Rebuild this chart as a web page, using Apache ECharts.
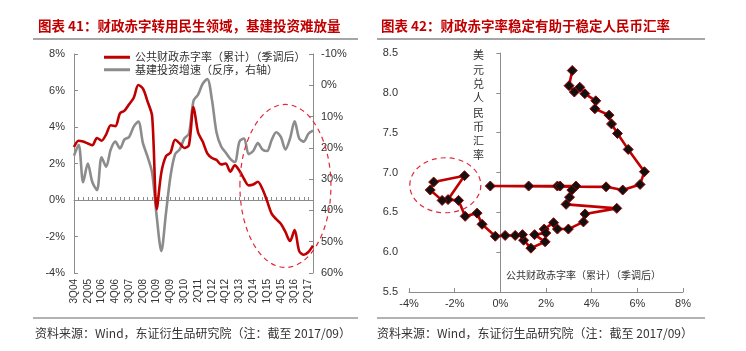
<!DOCTYPE html>
<html>
<head>
<meta charset="utf-8">
<script src="https://cdn.jsdelivr.net/npm/echarts@6/dist/echarts.min.js"></script>
<style>
html, body { margin: 0; padding: 0; background: #fff; }
#main { width: 746px; height: 351px; }
</style>
</head>
<body>
<div id="main"></div>
<script>
// 图表41：季度
var quarterLabels = ['3Q04','4Q04','1Q05','2Q05','3Q05','4Q05','1Q06','2Q06','3Q06','4Q06',
    '1Q07','2Q07','3Q07','4Q07','1Q08','2Q08','3Q08','4Q08','1Q09','2Q09','3Q09','4Q09',
    '1Q10','2Q10','3Q10','4Q10','1Q11','2Q11','3Q11','4Q11','1Q12','2Q12','3Q12','4Q12',
    '1Q13','2Q13','3Q13','4Q13','1Q14','2Q14','3Q14','4Q14','1Q15','2Q15','3Q15','4Q15',
    '1Q16','2Q16','3Q16','4Q16','1Q17','2Q17','3Q17'];
// 公共财政赤字率（累计）（季调后），%
var deficitRate = [2.9, 3.25, 3.2, 3.1, 3.0, 3.4, 3.25, 3.6, 4.1, 4.05, 4.75, 4.9, 5.25, 5.6,
    6.3, 6.1, 5.4, 4.6, -0.5, 1.5, 2.4, 2.6, 3.3, 3.1, 2.85, 3.0, 5.1, 3.7, 3.2, 2.55, 2.3,
    2.2, 1.95, 2.0, 1.55, 1.9, 1.6, 1.15, 0.8, 0.85, 1.0, 0.6, -0.05, -0.75, -1.05, -1.3,
    -1.75, -2.25, -1.65, -2.8, -3.0, -2.85, -2.5];
// 基建投资增速（反序，右轴），%
var infraGrowth = [22.5, 19, 31, 25, 31, 33.5, 23, 26, 20.5, 18, 20.2, 17.3, 16.5, 13.2,
    11.6, 18.5, 22.8, 28, 42, 53, 41, 29, 22, 20.5, 17, 15.5, 5, 3, -0.5, -2, 4.5, 15, 19.5,
    21.5, 23.5, 24.5, 18, 17, 22, 21, 18.5, 20.5, 21, 17.5, 15, 16.5, 20.5, 17, 11.5, 17,
    18, 15.5, 14.5];

// 图表42：赤字率 vs 美元兑人民币汇率
var deficit42 = [3.15, 3.01, 3.24, 3.48, 3.70, 4.18, 4.14, 4.76, 4.87, 5.13, 5.60, 6.31,
    6.12, 5.36, 4.63, -0.44, 1.24, 2.50, 2.62, 3.31, 3.13, 3.03, 2.88, 5.10, 3.71, 3.64,
    2.98, 2.50, 2.33, 1.92, 1.99, 1.50, 1.96, 1.34, 1.02, 0.97, 0.65, 0.21, -0.22, -0.80,
    -1.02, -1.54, -1.83, -2.29, -1.57, -2.92, -3.07, -2.55];
var usdcny42 = [8.28, 8.09, 8.01, 8.07, 7.99, 7.90, 7.80, 7.72, 7.61, 7.49, 7.29, 7.01,
    6.85, 6.78, 6.82, 6.83, 6.83, 6.83, 6.83, 6.83, 6.78, 6.69, 6.60, 6.55, 6.48, 6.38,
    6.29, 6.29, 6.37, 6.29, 6.24, 6.22, 6.13, 6.05, 6.15, 6.22, 6.21, 6.21, 6.20, 6.35,
    6.49, 6.45, 6.65, 6.66, 6.96, 6.88, 6.78, 6.65];

var pairs42 = deficit42.map(function (d, i) { return [d, usdcny42[i]]; });

var FONT = 'Liberation Sans';
var CJK = 'Noto Sans CJK SC';
var axisGray = '#8c8c8c';

var dom = document.getElementById('main');
var myChart = echarts.init(dom);
var option = {
    animation: false,
    textStyle: { fontFamily: FONT },
    title: [
        { text: '图表 41：财政赤字转用民生领域，基建投资难放量', left: 33, top: 14,
          textStyle: { fontFamily: CJK, fontSize: 13.5, fontWeight: 'bold', color: '#c00000' } },
        { text: '图表 42：财政赤字率稳定有助于稳定人民币汇率', left: 376, top: 14,
          textStyle: { fontFamily: CJK, fontSize: 13.5, fontWeight: 'bold', color: '#c00000' } }
    ],
    legend: {
        orient: 'vertical', left: 99, top: 46, itemWidth: 26, itemHeight: 3, itemGap: 0,
        textStyle: { fontFamily: CJK, fontSize: 11, color: '#333', lineHeight: 12.5 },
        data: [{ name: '公共财政赤字率（累计）（季调后）', icon: 'rect' },
               { name: '基建投资增速（反序，右轴）', icon: 'rect' }]
    },
    grid: [
        { left: 74, right: 433, top: 54, bottom: 78 },
        { left: 409, right: 63, top: 53, bottom: 59 }
    ],
    xAxis: [
        { type: 'category', gridIndex: 0, data: quarterLabels, boundaryGap: false, position: 'bottom',
          axisLine: { show: false, onZero: false }, axisTick: { show: false },
          axisLabel: { interval: 2, rotate: 90, fontSize: 10, color: '#333', margin: 6 } },
        { type: 'category', gridIndex: 0, data: quarterLabels, boundaryGap: false, position: 'bottom',
          axisLine: { onZero: true, onZeroAxisIndex: 0, lineStyle: { color: axisGray, width: 1 } },
          axisTick: { show: true, inside: true, interval: 0, length: 3, lineStyle: { color: axisGray } },
          axisLabel: { show: false } },
        { type: 'value', gridIndex: 1, min: -4, max: 8, interval: 2,
          axisLine: { onZero: false, lineStyle: { color: axisGray } },
          axisTick: { inside: true, length: 4, lineStyle: { color: axisGray } },
          splitLine: { show: false },
          axisLabel: { formatter: '{value}%', fontSize: 11, color: '#333', margin: 6 } }
    ],
    yAxis: [
        { type: 'value', gridIndex: 0, min: -4, max: 8, interval: 2,
          axisLine: { show: true, onZero: false, lineStyle: { color: axisGray } },
          axisTick: { show: true, inside: true, length: 4, lineStyle: { color: axisGray } },
          splitLine: { show: false },
          axisLabel: { formatter: '{value}%', fontSize: 11, color: '#333', margin: 9 } },
        { type: 'value', gridIndex: 0, min: -10, max: 60, interval: 10, inverse: true, position: 'right',
          axisLine: { show: true, onZero: false, lineStyle: { color: axisGray } },
          axisTick: { show: true, inside: true, length: 4, lineStyle: { color: axisGray } },
          splitLine: { show: false },
          axisLabel: { formatter: '{value}%', fontSize: 11, color: '#333', margin: 8 } },
        { type: 'value', gridIndex: 1, min: 5.5, max: 8.5, interval: 0.5,
          axisLine: { show: false, onZero: false }, axisTick: { show: false },
          splitLine: { show: false },
          axisLabel: { formatter: function (v) { return v.toFixed(1); }, fontSize: 11, color: '#333', margin: 11 } },
        { type: 'value', gridIndex: 1, min: 5.5, max: 8.5, interval: 0.5,
          axisLine: { show: true, onZero: true, onZeroAxisIndex: 2, lineStyle: { color: axisGray } },
          axisTick: { show: true, inside: true, length: 4, lineStyle: { color: axisGray } },
          splitLine: { show: false }, axisLabel: { show: false } }
    ],
    series: [
        { name: '公共财政赤字率（累计）（季调后）', type: 'line', xAxisIndex: 1, yAxisIndex: 0,
          data: deficitRate, symbol: 'none', smooth: 0.3, z: 3,
          itemStyle: { color: '#c00000' }, lineStyle: { color: '#c00000', width: 2.6 } },
        { name: '基建投资增速（反序，右轴）', type: 'line', xAxisIndex: 0, yAxisIndex: 1,
          data: infraGrowth, symbol: 'none', smooth: 0.3, z: 2,
          itemStyle: { color: '#8c8c8c' }, lineStyle: { color: '#8c8c8c', width: 2.6 } },
        { name: '汇率', type: 'line', xAxisIndex: 2, yAxisIndex: 2, data: pairs42,
          symbol: 'diamond', symbolSize: 10,
          itemStyle: { color: '#111', borderColor: '#9a0000', borderWidth: 1 },
          lineStyle: { color: '#c00000', width: 2.6 } }
    ]
};
myChart.setOption(option);

// 标注椭圆与装饰线
var c1 = myChart.convertToPixel({ xAxisIndex: 1, yAxisIndex: 0 }, [46.3, 0.77]);
var c2 = myChart.convertToPixel({ xAxisIndex: 2, yAxisIndex: 2 }, [-2.41, 6.84]);
var dash = { stroke: '#e0283a', fill: 'none', lineWidth: 1.2, lineDash: [5, 4] };
myChart.setOption({
    graphic: [
        { type: 'ellipse', shape: { cx: c1[0], cy: c1[1], rx: 45.5, ry: 81.5 }, style: dash, z: 10 },
        { type: 'ellipse', shape: { cx: c2[0], cy: c2[1], rx: 35.5, ry: 27.5 }, style: dash, z: 10 },
        { type: 'line', shape: { x1: 33, y1: 39, x2: 358, y2: 39 }, style: { stroke: '#a6a6a6', lineWidth: 2 } },
        { type: 'line', shape: { x1: 377, y1: 39, x2: 705, y2: 39 }, style: { stroke: '#a6a6a6', lineWidth: 2 } },
        { type: 'line', shape: { x1: 33, y1: 318, x2: 358, y2: 318 }, style: { stroke: '#666', lineWidth: 1 } },
        { type: 'line', shape: { x1: 377, y1: 318, x2: 705, y2: 318 }, style: { stroke: '#666', lineWidth: 1 } },
        { type: 'text', left: 35, top: 327, style: { text: '资料来源：Wind，东证衍生品研究院（注：截至 2017/09）',
          font: '12px "Noto Sans CJK SC"', fill: '#333' } },
        { type: 'text', left: 377, top: 327, style: { text: '资料来源：Wind，东证衍生品研究院（注：截至 2017/09）',
          font: '12px "Noto Sans CJK SC"', fill: '#333' } },
        { type: 'text', left: 473, top: 48, style: { text: '美\n元\n兑\n人\n民\n币\n汇\n率',
          font: '11px "Noto Sans CJK SC"', fill: '#333', lineHeight: 14.3 } },
        { type: 'text', left: 506, top: 270, style: { text: '公共财政赤字率（累计）（季调后）',
          font: '10px "Noto Sans CJK SC"', fill: '#333' } }
    ]
});
</script>
</body>
</html>
